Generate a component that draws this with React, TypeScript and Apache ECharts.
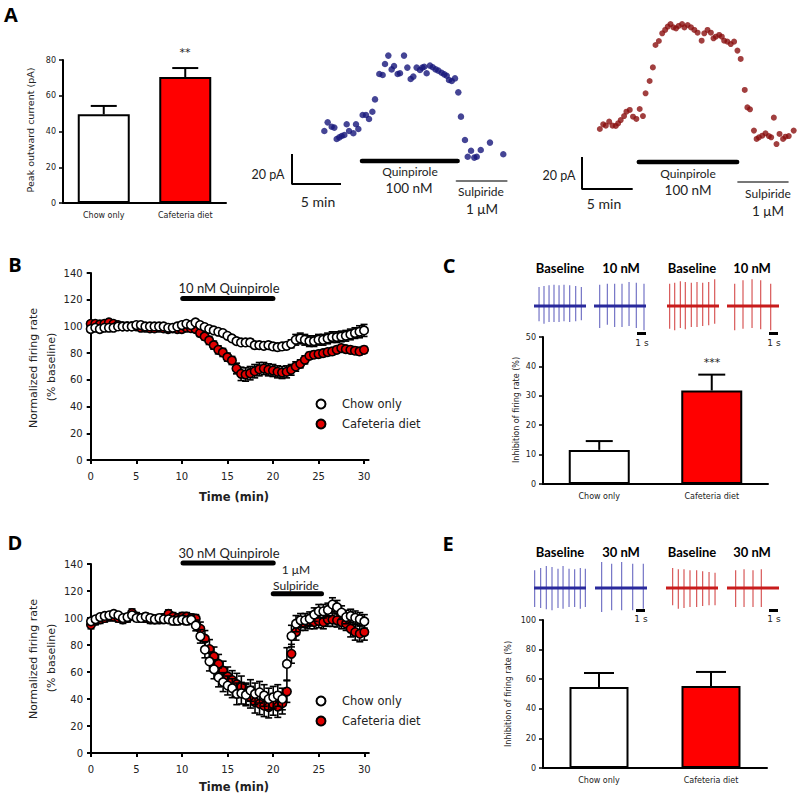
import React, { useEffect, useRef } from 'react';
import * as echarts from 'echarts';

// ---------- DATA ----------
const groups = ['Chow only', 'Cafeteria diet'];

// Panel A: peak outward current (pA)
const peakMean = [49.6, 70.5];
const peakSem = [4.7, 5.0];

// Panel A example traces: [time (min), current (pA)]
const chowTrace = [
  [3.3, 35.3], [3.64, 41.1], [4.05, 38.2], [4.32, 37.6], [4.56, 30.0], [4.83, 31.1], [5.07, 32.0], [5.34, 32.7],
  [5.58, 39.8], [5.82, 35.3], [6.26, 33.8], [6.53, 39.8], [6.77, 36.7], [7.21, 46.0], [7.55, 46.0], [7.86, 43.3],
  [8.2, 48.2], [8.47, 56.4], [8.91, 73.3], [9.25, 72.7], [9.49, 80.0], [9.83, 85.6], [10.17, 76.4], [10.41, 78.7],
  [10.78, 73.3], [11.02, 73.8], [11.43, 85.6], [11.77, 77.6], [12.11, 70.0], [12.38, 71.6], [12.72, 77.6], [13.06, 76.0],
  [13.3, 77.6], [13.5, 78.2], [13.74, 73.8], [14.08, 78.9], [14.36, 77.8], [14.66, 76.4], [14.93, 75.6], [15.27, 74.2],
  [15.54, 73.1], [15.79, 72.2], [16.02, 69.3], [16.3, 68.7], [16.63, 70.4], [16.97, 61.1], [17.24, 44.9], [17.65, 29.3],
  [17.93, 18.2], [18.27, 22.2], [18.6, 17.6], [18.85, 18.2], [19.26, 22.7], [20.2, 27.6], [21.56, 19.8],
];
const cafTrace = [
  [1.76, 37.5], [2.09, 40.4], [2.35, 39.6], [2.68, 42.1], [3.01, 39.6], [3.33, 39.4], [3.56, 41.0], [3.82, 43.1],
  [4.15, 45.6], [4.38, 48.3], [4.71, 49.4], [5.03, 45.2], [5.36, 43.8], [5.69, 50.0], [6.01, 45.6], [6.27, 59.8],
  [6.67, 67.5], [6.99, 76.0], [7.25, 90.0], [7.58, 92.5], [7.91, 97.3], [8.2, 99.4], [8.46, 101.5], [8.73, 103.1],
  [9.02, 101.0], [9.28, 100.4], [9.54, 101.9], [9.87, 103.1], [10.1, 101.0], [10.42, 102.5], [10.75, 101.0], [11.08, 99.4],
  [11.4, 97.7], [11.8, 92.7], [12.06, 97.3], [12.38, 99.4], [12.71, 97.7], [12.97, 94.2], [13.2, 95.2], [13.53, 96.3],
  [13.79, 95.2], [14.02, 92.7], [14.34, 92.1], [14.67, 90.6], [15.0, 92.1], [15.33, 86.5], [15.65, 81.3], [16.05, 61.9],
  [16.31, 51.0], [16.57, 49.8], [16.96, 36.5], [17.22, 31.3], [17.45, 32.3], [17.78, 33.3], [18.1, 34.8], [18.43, 33.1],
  [18.66, 32.3], [18.92, 44.6], [19.18, 28.1], [19.48, 34.4], [19.83, 31.3], [20.07, 32.7], [20.39, 33.1], [20.88, 36.5],
];
const chowQuinA = [7.14, 16.9];
const chowSulpA = [16.8, 21.9];
const cafQuinA = [5.6, 15.3];
const cafSulpA = [15.4, 20.3];

// Panels B & D: time (min)
const timeMin = [0, 0.5, 1, 1.5, 2, 2.5, 3, 3.5, 4, 4.5, 5, 5.5, 6, 6.5, 7, 7.5, 8, 8.5, 9, 9.5,
  10, 10.5, 11, 11.5, 12, 12.5, 13, 13.5, 14, 14.5, 15, 15.5, 16, 16.5, 17, 17.5, 18, 18.5, 19, 19.5,
  20, 20.5, 21, 21.5, 22, 22.5, 23, 23.5, 24, 24.5, 25, 25.5, 26, 26.5, 27, 27.5, 28, 28.5, 29, 29.5, 30];
const timeTicks = [0, 5, 10, 15, 20, 25, 30];

// Panel B: 10 nM quinpirole
const chowB = [98, 99, 98, 99, 99, 99, 100, 100, 100, 100, 101, 101, 100, 100, 100, 100, 100, 99, 99, 100,
  101, 102, 101, 103, 101, 99.5, 98, 97, 96, 95, 93, 91, 89, 88, 88, 88, 86, 86, 85.5, 86,
  85, 84.5, 85, 85.5, 87, 90, 91, 90, 89, 89, 90, 90, 91, 92, 92, 92.5, 93, 94, 95, 96, 97];
const chowBsem = [2, 2, 2, 2, 2, 2, 2, 2, 2, 2, 2, 2, 2, 2, 2, 2, 2, 2, 2, 2,
  2, 2, 2, 2, 2, 2, 2, 2, 2, 2, 2, 2, 2, 2, 2.5, 2.5, 2.5, 2.5, 2.5, 2.5,
  2.5, 2.5, 2.5, 2.5, 3, 4, 4, 4, 4, 4, 4, 4, 4, 4, 4, 4, 4, 4, 4, 4.5, 4.5];
const cafB = [102, 102, 101.5, 102, 103, 102, 101, 100, 100, 100, 100, 99, 99, 98.5, 98.5, 99, 98.5, 98, 98.5, 98,
  98, 99, 98.7, 98, 95, 92.5, 89.5, 86, 82.5, 80.5, 77, 74.5, 68.5, 64.5, 64, 65, 66.5, 68, 68.5, 67.5,
  67, 66, 65.5, 66, 67.5, 70, 72, 75, 78, 78.8, 79.3, 80, 80.8, 81.3, 82.5, 83.8, 83, 82.5, 81.8, 81.3, 82.5];
const cafBsem = [2, 2, 2, 2, 2, 2, 2, 2, 2, 2, 2, 2, 2, 2, 2, 2, 2, 2, 2, 2,
  2, 2, 2, 2, 2.5, 2.5, 3, 3, 3, 3, 3, 3, 4, 5, 5, 5, 5, 5, 4.5, 4.5,
  4.5, 4.5, 4.5, 4.5, 4, 3.5, 3, 3, 2.5, 2.5, 2.5, 2.5, 2.5, 2.5, 2.5, 2.5, 2.5, 2.5, 2.5, 2.5, 2.5];
const quinB = [10.1, 20];

// Panel D: 30 nM quinpirole + sulpiride
const chowD = [97.5, 99, 100.7, 101.5, 102, 103, 102, 100, 100.7, 102, 100, 100, 101, 100, 99, 100, 99, 99, 98, 98,
  98.8, 98, 98.8, 94.5, 86.4, 76.5, 67.8, 62, 56, 52.5, 50, 48, 43.8, 44.3, 43, 46.3, 43.8, 45, 42.6, 40,
  41.3, 42.6, 40, 66, 86.6, 95.8, 98.3, 98.3, 99.5, 102.5, 105, 105, 106, 110, 108, 104, 100.7, 101.5, 100.2, 99, 97.5];
const chowDsem = [2, 2, 2, 2, 2, 2, 2, 2.5, 2.5, 2.5, 2.5, 2.5, 2.5, 2.5, 2.5, 2.5, 2.5, 2.5, 3, 3,
  3, 3, 3, 4, 5, 6, 7, 7, 7, 7, 7, 7, 8, 8, 8, 8, 8, 8, 8, 8,
  8, 8, 8, 12, 8, 6, 5, 5, 5, 5, 5, 5, 5, 5, 5, 5, 5, 5, 5, 5, 5];
const cafD = [95, 98, 99, 100, 101, 101, 100, 99, 100, 103.7, 101, 100, 100, 99, 99, 99, 100, 103, 101, 100,
  101, 101, 100, 99.5, 92, 84.7, 77, 71.5, 66, 61, 56.7, 54, 51, 49, 43.8, 41.3, 37.6, 36.4, 35, 34,
  36, 34.4, 36.9, 45.5, 73.5, 89.6, 95.8, 95.8, 97, 97, 97.8, 97, 98.8, 98.8, 98.3, 97, 95.8, 92, 89.6, 88.4, 89.6];
const cafDsem = [3, 3, 3, 3, 3, 3, 3, 3, 3, 3, 3, 3, 3, 3, 3, 3, 3, 3, 3, 3,
  3, 3, 3, 3, 5, 6, 7, 7, 7, 7, 7, 7, 8, 8, 8, 8, 8, 8, 8, 8,
  8, 8, 8, 8, 7, 6, 5, 5, 5, 5, 5, 5, 5, 5, 5, 5, 5, 6, 6, 6, 6];
const quinD = [10.1, 20];
const sulpD = [20, 25.3];

// Panels C & E: inhibition of firing rate (%)
const inhib10Mean = [11.6, 31.8];
const inhib10Sem = [3.0, 5.4];
const inhib30Mean = [54.7, 55.4];
const inhib30Sem = [9.5, 9.5];

// Example spike traces: [time (s), upward amplitude, downward amplitude]
const traceDur = 6.5;
const cBlueBase = [[0.63, 19, 15.3], [1.25, 20, 17.7], [1.88, 20.7, 16], [2.5, 21.3, 16], [3.13, 20.7, 16], [3.75, 21.3, 15.3], [4.46, 20.7, 16], [5.21, 20, 15.3], [5.92, 19, 14.3]];
const cBlue10 = [[0.71, 21.3, 22], [1.67, 22.3, 18.7], [2.58, 22.3, 21], [3.5, 22.3, 21], [4.38, 24, 20], [5.29, 23.3, 22], [6.25, 22.3, 24.3]];
const cRedBase = [[0.33, 22.3, 22.7], [0.96, 23.3, 24.3], [1.67, 24.7, 22], [2.29, 24, 23.3], [3.04, 23.3, 21], [3.75, 24, 21], [4.46, 23.3, 20], [5.21, 24, 19.3], [5.96, 26.7, 17.7]];
const cRed10 = [[0.96, 22.3, 24.3], [2.0, 25.7, 22.7], [3.13, 26.7, 22], [4.21, 25.7, 23.3], [5.46, 22.3, 24.3]];
const eBlueBase = [[0.08, 17.7, 19], [0.83, 20, 20], [1.54, 22, 21.3], [2.25, 21, 22.3], [3.0, 19.3, 20], [3.63, 22, 20.7], [4.38, 19.3, 19], [5.08, 18.7, 19], [5.79, 20, 20.7], [6.42, 19.3, 19]];
const eBlue30 = [[0.83, 26, 24], [2.08, 24.3, 22.3], [3.33, 26, 22.3], [4.71, 24.3, 22.3], [6.04, 24.3, 20.7]];
const eRedBase = [[0.83, 20, 17.3], [1.54, 18.7, 20.7], [2.25, 18.7, 20], [3.0, 17.7, 19], [3.83, 17.7, 19], [4.58, 16.7, 18], [5.38, 16, 17.3], [6.13, 15.3, 17.3]];
const eRed30 = [[1.08, 17.7, 19], [2.13, 18.7, 19], [3.25, 17.7, 19], [4.29, 18.7, 19]];

// ---------- STYLE ----------
const AX = 'DejaVu Sans';
const CAL = 'Lato';
const RED = '#ff0000';
const BLUE_DOT = '#16167a';
const RED_DOT = '#8a0f0f';
const BLUE_BASE = '#2a2a9c';
const BLUE_SPIKE = '#7474c6';
const RED_BASE = '#c81c1c';
const RED_SPIKE = '#d85858';

function txt(x: number, y: number, text: string, size: number, o: any = {}) {
  return {
    type: 'text', x, y, rotation: o.rot || 0, z: 100,
    style: {
      text, fill: o.color || '#222', fontSize: size, fontFamily: o.family || CAL,
      fontWeight: o.weight || 'normal', align: o.align || 'center', verticalAlign: 'middle',
    },
  };
}

function barAxes(gi: number, max: number, interval: number) {
  const x = {
    type: 'category', gridIndex: gi, data: groups,
    axisLine: { lineStyle: { color: '#000', width: 2 } },
    axisTick: { alignWithLabel: true, length: 4, lineStyle: { color: '#000', width: 2 } },
    axisLabel: { fontSize: 8, fontFamily: AX, color: '#222', margin: 8 },
  };
  const y = {
    type: 'value', gridIndex: gi, min: 0, max, interval,
    splitLine: { show: false },
    axisLine: { show: true, lineStyle: { color: '#000', width: 2 } },
    axisTick: { show: true, length: 4, lineStyle: { color: '#000', width: 1.5 } },
    axisLabel: { fontSize: 8, fontFamily: AX, color: '#222', margin: 7 },
  };
  return [x, y];
}

function timeAxes(gi: number) {
  const x = {
    type: 'value', gridIndex: gi, min: 0, max: 30.5, interval: 5,
    splitLine: { show: false },
    axisLine: { lineStyle: { color: '#000', width: 2 } },
    axisTick: { show: true, length: 4, customValues: timeTicks, lineStyle: { color: '#000', width: 2 } },
    axisLabel: { fontSize: 10, fontFamily: AX, color: '#222', margin: 11, customValues: timeTicks },
  };
  const y = {
    type: 'value', gridIndex: gi, min: 0, max: 140, interval: 20,
    splitLine: { show: false },
    axisLine: { show: true, lineStyle: { color: '#000', width: 2 } },
    axisTick: { show: true, length: 4, lineStyle: { color: '#000', width: 2 } },
    axisLabel: { fontSize: 10, fontFamily: AX, color: '#222', margin: 8 },
  };
  return [x, y];
}

function hiddenAxes(gi: number, xmin: number, xmax: number, ymin: number, ymax: number) {
  return [
    { type: 'value', gridIndex: gi, min: xmin, max: xmax, show: false },
    { type: 'value', gridIndex: gi, min: ymin, max: ymax, show: false },
  ];
}

function barSeries(ai: number, means: number[], width: number) {
  return {
    type: 'bar', xAxisIndex: ai, yAxisIndex: ai, barWidth: width, z: 2,
    data: means.map((m, i) => ({
      value: m,
      itemStyle: { color: i === 0 ? '#ffffff' : RED, borderColor: '#000', borderWidth: 2 },
    })),
  };
}

function barErr(ai: number, means: number[], sems: number[], cap: number) {
  return {
    type: 'custom', xAxisIndex: ai, yAxisIndex: ai, z: 3,
    data: means.map((m, i) => [i, m, m + sems[i]]),
    renderItem: (_p: any, api: any) => {
      const b = api.coord([api.value(0), api.value(1)]);
      const t = api.coord([api.value(0), api.value(2)]);
      const st = { stroke: '#000', lineWidth: 2 };
      return {
        type: 'group', children: [
          { type: 'line', shape: { x1: b[0], y1: b[1], x2: t[0], y2: t[1] }, style: st },
          { type: 'line', shape: { x1: t[0] - cap, y1: t[1], x2: t[0] + cap, y2: t[1] }, style: st },
        ],
      };
    },
  };
}

function scatterErr(ai: number, vals: number[], sems: number[], z: number) {
  return {
    type: 'custom', xAxisIndex: ai, yAxisIndex: ai, z,
    data: timeMin.map((t, i) => [t, vals[i] - sems[i], vals[i] + sems[i]]),
    renderItem: (_p: any, api: any) => {
      const lo = api.coord([api.value(0), api.value(1)]);
      const hi = api.coord([api.value(0), api.value(2)]);
      const st = { stroke: '#000', lineWidth: 1.6 };
      const c = 3.5;
      return {
        type: 'group', children: [
          { type: 'line', shape: { x1: lo[0], y1: lo[1], x2: hi[0], y2: hi[1] }, style: st },
          { type: 'line', shape: { x1: hi[0] - c, y1: hi[1], x2: hi[0] + c, y2: hi[1] }, style: st },
          { type: 'line', shape: { x1: lo[0] - c, y1: lo[1], x2: lo[0] + c, y2: lo[1] }, style: st },
        ],
      };
    },
  };
}

function scatterMean(ai: number, vals: number[], fill: string, z: number) {
  return {
    type: 'scatter', xAxisIndex: ai, yAxisIndex: ai, z, symbol: 'circle', symbolSize: 8.5,
    itemStyle: { color: fill, borderColor: '#000', borderWidth: 1.6, opacity: 1 },
    data: timeMin.map((t, i) => [t, vals[i]]),
  };
}

function hline(ai: number, range: number[], y: number, width: number, color = '#000') {
  return {
    type: 'line', xAxisIndex: ai, yAxisIndex: ai, symbol: 'none', clip: false, z: 5,
    lineStyle: { color, width, cap: 'round' },
    data: [[range[0], y], [range[1], y]],
  };
}

function scaleBar(ai: number, pA: number, min: number) {
  return {
    type: 'line', xAxisIndex: ai, yAxisIndex: ai, symbol: 'none', clip: false, z: 5,
    lineStyle: { color: '#000', width: 2 },
    data: [[0, pA], [0, 0], [min, 0]],
  };
}

function spikeTrace(ai: number, spikes: number[][], baseColor: string, spikeColor: string) {
  return [
    {
      type: 'custom', xAxisIndex: ai, yAxisIndex: ai, z: 2,
      data: spikes,
      renderItem: (_p: any, api: any) => {
        const t = api.value(0);
        const a = api.coord([t, api.value(1)]);
        const b = api.coord([t, -api.value(2)]);
        return { type: 'line', shape: { x1: a[0], y1: a[1], x2: b[0], y2: b[1] }, style: { stroke: spikeColor, lineWidth: 1.2 } };
      },
    },
    {
      type: 'line', xAxisIndex: ai, yAxisIndex: ai, symbol: 'none', z: 3,
      lineStyle: { color: baseColor, width: 3 },
      data: [[0, 0], [traceDur, 0]],
    },
  ];
}

export default function App() {
  const ref = useRef<HTMLDivElement>(null);
  useEffect(() => {
    if (!ref.current) return;
    const chart = echarts.init(ref.current, null, { renderer: 'svg' });

    const grids: any[] = [
      { left: 63, top: 60, width: 163, height: 143 },        // 0 A bars
      { left: 292, top: 49, width: 220.5, height: 135 },     // 1 A chow trace
      { left: 582, top: 13, width: 219.3, height: 176 },     // 2 A caf trace
      { left: 90.7, top: 273, width: 277.9, height: 187 },   // 3 B
      { left: 543, top: 337, width: 225, height: 147 },      // 4 C bars
      { left: 91, top: 564, width: 277.9, height: 189 },     // 5 D
      { left: 543, top: 620, width: 224, height: 148 },      // 6 E bars
    ];
    const cLefts = [534, 594, 667, 727];
    const eLefts = [534, 595, 666, 727];
    cLefts.forEach((l) => grids.push({ left: l, top: 276, width: 52, height: 60 }));
    eLefts.forEach((l) => grids.push({ left: l, top: 558, width: 52, height: 60 }));

    const xAxes: any[] = [];
    const yAxes: any[] = [];
    const add = (p: any[]) => { xAxes.push(p[0]); yAxes.push(p[1]); };
    add(barAxes(0, 80, 20));
    add(hiddenAxes(1, 0, 22.5, 0, 90));
    add(hiddenAxes(2, 0, 21.5, 0, 110));
    add(timeAxes(3));
    add(barAxes(4, 50, 10));
    add(timeAxes(5));
    add(barAxes(6, 100, 20));
    for (let i = 7; i < 15; i++) add(hiddenAxes(i, 0, traceDur, -30, 30));

    const series: any[] = [
      barSeries(0, peakMean, 52), barErr(0, peakMean, peakSem, 13),
      { type: 'scatter', xAxisIndex: 1, yAxisIndex: 1, symbolSize: 6.5, itemStyle: { color: BLUE_DOT }, data: chowTrace, z: 3 },
      scaleBar(1, 20, 5), hline(1, chowQuinA, 15.3, 4.5), hline(1, chowSulpA, 2, 2, '#777'),
      { type: 'scatter', xAxisIndex: 2, yAxisIndex: 2, symbolSize: 6, itemStyle: { color: RED_DOT }, data: cafTrace, z: 3 },
      scaleBar(2, 20, 5), hline(2, cafQuinA, 16.9, 4.5), hline(2, cafSulpA, 4.4, 2, '#777'),
      scatterErr(3, cafB, cafBsem, 2), scatterMean(3, cafB, '#e00000', 3),
      scatterErr(3, chowB, chowBsem, 4), scatterMean(3, chowB, '#ffffff', 5),
      hline(3, quinB, 121, 5),
      barSeries(4, inhib10Mean, 61), barErr(4, inhib10Mean, inhib10Sem, 13.5),
      scatterErr(5, cafD, cafDsem, 2), scatterMean(5, cafD, '#e00000', 3),
      scatterErr(5, chowD, chowDsem, 4), scatterMean(5, chowD, '#ffffff', 5),
      hline(5, quinD, 140.7, 5), hline(5, sulpD, 118, 5),
      barSeries(6, inhib30Mean, 59), barErr(6, inhib30Mean, inhib30Sem, 15),
      ...spikeTrace(7, cBlueBase, BLUE_BASE, BLUE_SPIKE),
      ...spikeTrace(8, cBlue10, BLUE_BASE, BLUE_SPIKE),
      ...spikeTrace(9, cRedBase, RED_BASE, RED_SPIKE),
      ...spikeTrace(10, cRed10, RED_BASE, RED_SPIKE),
      ...spikeTrace(11, eBlueBase, BLUE_BASE, BLUE_SPIKE),
      ...spikeTrace(12, eBlue30, BLUE_BASE, BLUE_SPIKE),
      ...spikeTrace(13, eRedBase, RED_BASE, RED_SPIKE),
      ...spikeTrace(14, eRed30, RED_BASE, RED_SPIKE),
    ];

    const L = 'Open Sans';
    const graphics: any[] = [
      // panel letters
      txt(11, 14, 'A', 20, { family: L, weight: 'bold', color: '#000' }),
      txt(15, 264, 'B', 20, { family: L, weight: 'bold', color: '#000' }),
      txt(449, 265, 'C', 20, { family: L, weight: 'bold', color: '#000' }),
      txt(15, 542, 'D', 20, { family: L, weight: 'bold', color: '#000' }),
      txt(448, 543, 'E', 20, { family: L, weight: 'bold', color: '#000' }),
      // A
      txt(30, 130, 'Peak outward current (pA)', 9.5, { family: AX, rot: Math.PI / 2 }),
      txt(185, 52, '**', 11, { family: AX }),
      txt(268, 174, '20 pA', 12.5), txt(318, 201, '5 min', 14),
      txt(410, 171, 'Quinpirole', 12), txt(409, 187.5, '100 nM', 13.5),
      txt(481, 191, 'Sulpiride', 12), txt(482, 208.5, '1 μM', 13.5),
      txt(559, 175, '20 pA', 12.5), txt(604, 203, '5 min', 14),
      txt(688, 173, 'Quinpirole', 12), txt(688, 189.5, '100 nM', 13.5),
      txt(768, 193, 'Sulpiride', 12), txt(768, 210.5, '1 μM', 13.5),
      // B
      txt(229, 288, '10 nM Quinpirole', 13),
      txt(33, 368, 'Normalized firing rate', 11, { family: AX, rot: Math.PI / 2 }),
      txt(51, 367, '(% baseline)', 11, { family: AX, rot: Math.PI / 2 }),
      txt(234, 497, 'Time (min)', 11.5, { family: AX, weight: 'bold' }),
      { type: 'circle', shape: { cx: 321, cy: 404, r: 4.5 }, style: { fill: '#fff', stroke: '#000', lineWidth: 2 }, z: 100 },
      { type: 'circle', shape: { cx: 321, cy: 424, r: 4.5 }, style: { fill: '#e00000', stroke: '#000', lineWidth: 2 }, z: 100 },
      txt(342, 404, 'Chow only', 11.5, { family: AX, align: 'left' }),
      txt(342, 424, 'Cafeteria diet', 11.5, { family: AX, align: 'left' }),
      // C
      txt(560, 268, 'Baseline', 13, { weight: 'bold', color: '#000' }),
      txt(621, 268, '10 nM', 13, { weight: 'bold', color: '#000' }),
      txt(692, 268, 'Baseline', 13, { weight: 'bold', color: '#000' }),
      txt(752, 268, '10 nM', 13, { weight: 'bold', color: '#000' }),
      { type: 'rect', shape: { x: 637, y: 332, width: 9, height: 3 }, style: { fill: '#000' }, z: 100 },
      { type: 'rect', shape: { x: 769, y: 332, width: 9, height: 3 }, style: { fill: '#000' }, z: 100 },
      txt(642, 343, '1 s', 9, { family: AX }),
      txt(774, 343, '1 s', 9, { family: AX }),
      txt(516, 410, 'Inhibition of firing rate (%)', 8, { family: AX, rot: Math.PI / 2 }),
      txt(712, 362, '***', 11, { family: AX }),
      // D
      txt(229, 553, '30 nM Quinpirole', 13),
      txt(296, 569.5, '1 μM', 12), txt(296, 585, 'Sulpiride', 12),
      txt(33, 659, 'Normalized firing rate', 11, { family: AX, rot: Math.PI / 2 }),
      txt(51, 658, '(% baseline)', 11, { family: AX, rot: Math.PI / 2 }),
      txt(234, 787, 'Time (min)', 11.5, { family: AX, weight: 'bold' }),
      { type: 'circle', shape: { cx: 321, cy: 701, r: 4.5 }, style: { fill: '#fff', stroke: '#000', lineWidth: 2 }, z: 100 },
      { type: 'circle', shape: { cx: 321, cy: 721, r: 4.5 }, style: { fill: '#e00000', stroke: '#000', lineWidth: 2 }, z: 100 },
      txt(342, 701, 'Chow only', 11.5, { family: AX, align: 'left' }),
      txt(342, 721, 'Cafeteria diet', 11.5, { family: AX, align: 'left' }),
      // E
      txt(560, 552, 'Baseline', 13, { weight: 'bold', color: '#000' }),
      txt(621, 552, '30 nM', 13, { weight: 'bold', color: '#000' }),
      txt(692, 552, 'Baseline', 13, { weight: 'bold', color: '#000' }),
      txt(752, 552, '30 nM', 13, { weight: 'bold', color: '#000' }),
      { type: 'rect', shape: { x: 636, y: 609, width: 9, height: 3 }, style: { fill: '#000' }, z: 100 },
      { type: 'rect', shape: { x: 769, y: 609, width: 9, height: 3 }, style: { fill: '#000' }, z: 100 },
      txt(641, 619, '1 s', 9, { family: AX }),
      txt(774, 619, '1 s', 9, { family: AX }),
      txt(508, 694, 'Inhibition of firing rate (%)', 8, { family: AX, rot: Math.PI / 2 }),
    ];

    chart.setOption({
      animation: false,
      backgroundColor: '#ffffff',
      grid: grids,
      xAxis: xAxes,
      yAxis: yAxes,
      series,
      graphic: graphics,
    });
    return () => chart.dispose();
  }, []);

  return <div ref={ref} style={{ position: 'fixed', left: 0, top: 0, width: 800, height: 797 }} />;
}
